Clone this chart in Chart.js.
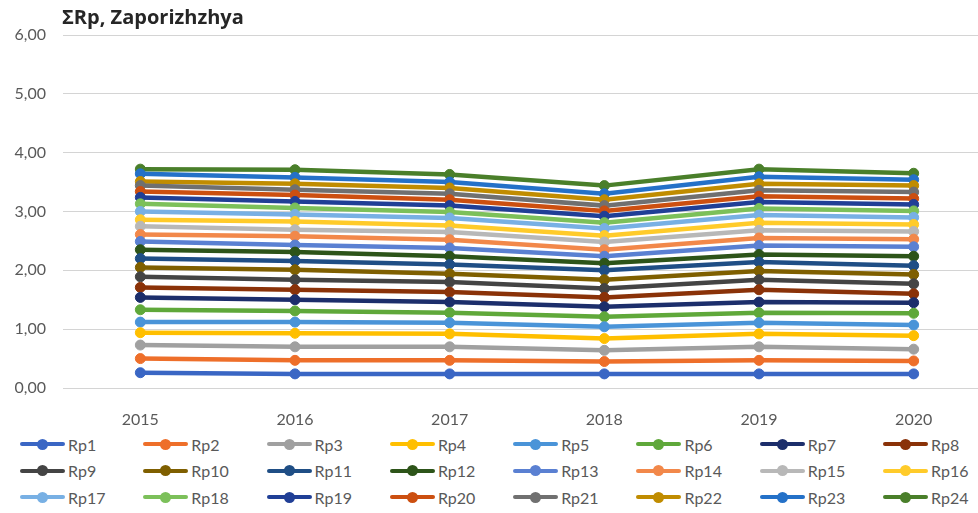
<!DOCTYPE html>
<html>
<head>
<meta charset="utf-8">
<script src="https://cdn.jsdelivr.net/npm/chart.js@4"></script>
<style>
  body { margin: 0; background: #fff; }
  #wrap { position: relative; width: 978px; height: 513px; overflow: hidden; background: #fff; }
  #box { position: absolute; left: 0; top: 0; width: 1000px; height: 430px; }
  #legend { position: absolute; left: 20px; top: 431px; display: grid; grid-template-columns: repeat(8, 123.3px); grid-auto-rows: 26.5px; font-family: Lato, sans-serif; font-size: 16px; color: #595959; }
  .item { display: flex; align-items: center; }
  .mark { position: relative; width: 45px; height: 4px; border-radius: 2px; margin-right: 3px; }
  .mark i { position: absolute; left: 17px; top: -3.5px; width: 11px; height: 11px; border-radius: 50%; }
</style>
</head>
<body>
<div id="wrap">
  <div id="box"><canvas id="chart"></canvas></div>
  <div id="legend"></div>
</div>
<script>
const years = ['2015', '2016', '2017', '2018', '2019', '2020'];
const yTicks = [0, 1, 2, 3, 4, 5, 6];

const rp1 = [0.26, 0.24, 0.24, 0.24, 0.24, 0.24];
const rp2 = [0.50, 0.47, 0.47, 0.45, 0.47, 0.46];
const rp3 = [0.73, 0.70, 0.70, 0.64, 0.70, 0.66];
const rp4 = [0.94, 0.93, 0.92, 0.84, 0.92, 0.89];
const rp5 = [1.12, 1.12, 1.11, 1.04, 1.11, 1.07];
const rp6 = [1.33, 1.31, 1.28, 1.21, 1.28, 1.27];
const rp7 = [1.54, 1.50, 1.46, 1.38, 1.46, 1.45];
const rp8 = [1.71, 1.67, 1.63, 1.54, 1.67, 1.60];
const rp9 = [1.89, 1.84, 1.80, 1.69, 1.84, 1.77];
const rp10 = [2.05, 2.01, 1.94, 1.84, 1.99, 1.93];
const rp11 = [2.20, 2.16, 2.10, 2.00, 2.14, 2.08];
const rp12 = [2.35, 2.31, 2.24, 2.12, 2.27, 2.24];
const rp13 = [2.49, 2.43, 2.38, 2.24, 2.42, 2.40];
const rp14 = [2.61, 2.58, 2.52, 2.35, 2.55, 2.53];
const rp15 = [2.75, 2.69, 2.65, 2.48, 2.68, 2.66];
const rp16 = [2.86, 2.83, 2.76, 2.59, 2.81, 2.78];
const rp17 = [3.00, 2.95, 2.89, 2.71, 2.94, 2.90];
const rp18 = [3.13, 3.06, 2.99, 2.81, 3.05, 3.01];
const rp19 = [3.24, 3.17, 3.10, 2.92, 3.16, 3.12];
const rp20 = [3.34, 3.28, 3.20, 3.01, 3.26, 3.22];
const rp21 = [3.44, 3.37, 3.30, 3.10, 3.36, 3.33];
const rp22 = [3.51, 3.47, 3.40, 3.20, 3.47, 3.44];
const rp23 = [3.64, 3.58, 3.50, 3.30, 3.59, 3.54];
const rp24 = [3.72, 3.71, 3.63, 3.44, 3.72, 3.65];

const seriesNames = ['Rp1','Rp2','Rp3','Rp4','Rp5','Rp6','Rp7','Rp8','Rp9','Rp10','Rp11','Rp12',
                     'Rp13','Rp14','Rp15','Rp16','Rp17','Rp18','Rp19','Rp20','Rp21','Rp22','Rp23','Rp24'];
const seriesValues = [rp1, rp2, rp3, rp4, rp5, rp6, rp7, rp8, rp9, rp10, rp11, rp12,
                      rp13, rp14, rp15, rp16, rp17, rp18, rp19, rp20, rp21, rp22, rp23, rp24];
const colors = ['#3a66c4','#ee6f2a','#a0a0a0','#ffbf00','#4a94d8','#5fa83a',
                '#1c2e6b','#8a3208','#444444','#7f5f00','#1f4e85','#2d5419',
                '#5a80d2','#f2884a','#b8b8b8','#ffcb2a','#78b0e4','#7cc05a',
                '#203f96','#cc4f10','#707070','#c08c00','#2471c8','#4a7f2a'];

const datasets = seriesNames.map((name, i) => ({
    label: name,
    data: seriesValues[i],
    borderColor: colors[i],
    backgroundColor: colors[i],
    borderWidth: 4.5,
    pointRadius: 5,
    pointBorderWidth: 1,
    pointHoverRadius: 5,
    tension: 0
}));

// title sits over the plot's left edge, like the original
const titlePlugin = {
    id: 'leftTitle',
    afterDraw(chart) {
        const c = chart.ctx;
        c.save();
        c.font = 'bold 20px "Open Sans"';
        c.fillStyle = '#262626';
        c.textBaseline = 'middle';
        c.textAlign = 'left';
        c.fillText('ΣRp, Zaporizhzhya', chart.chartArea.left - 1, 18);
        c.restore();
    }
};

new Chart(document.getElementById('chart'), {
    type: 'line',
    data: { labels: years, datasets: datasets },
    options: {
        responsive: true,
        maintainAspectRatio: false,
        animation: false,
        layout: { padding: { top: 35, right: 9, left: 0, bottom: 0 } },
        plugins: { legend: { display: false }, tooltip: { enabled: false } },
        scales: {
            x: {
                offset: true,
                grid: { display: false },
                border: { color: '#d4d4d4' },
                ticks: { color: '#595959', font: { family: 'Lato', size: 16 }, padding: 14 },
                afterFit(s) { s.height = 42; }
            },
            y: {
                min: 0, max: 6,
                afterBuildTicks(s) { s.ticks = yTicks.map(v => ({ value: v })); },
                grid: { color: '#d4d4d4', drawTicks: false },
                border: { display: false },
                ticks: {
                    color: '#595959', font: { family: 'Lato', size: 16 }, padding: 17,
                    callback: v => v.toFixed(2).replace('.', ',')
                },
                afterFit(s) { s.width = 63; }
            }
        }
    },
    plugins: [titlePlugin]
});

const legend = document.getElementById('legend');
seriesNames.forEach((name, i) => {
    const it = document.createElement('div');
    it.className = 'item';
    it.innerHTML = '<span class="mark" style="background:' + colors[i] + '"><i style="background:' + colors[i] + '"></i></span>' + name;
    legend.appendChild(it);
});
</script>
</body>
</html>
